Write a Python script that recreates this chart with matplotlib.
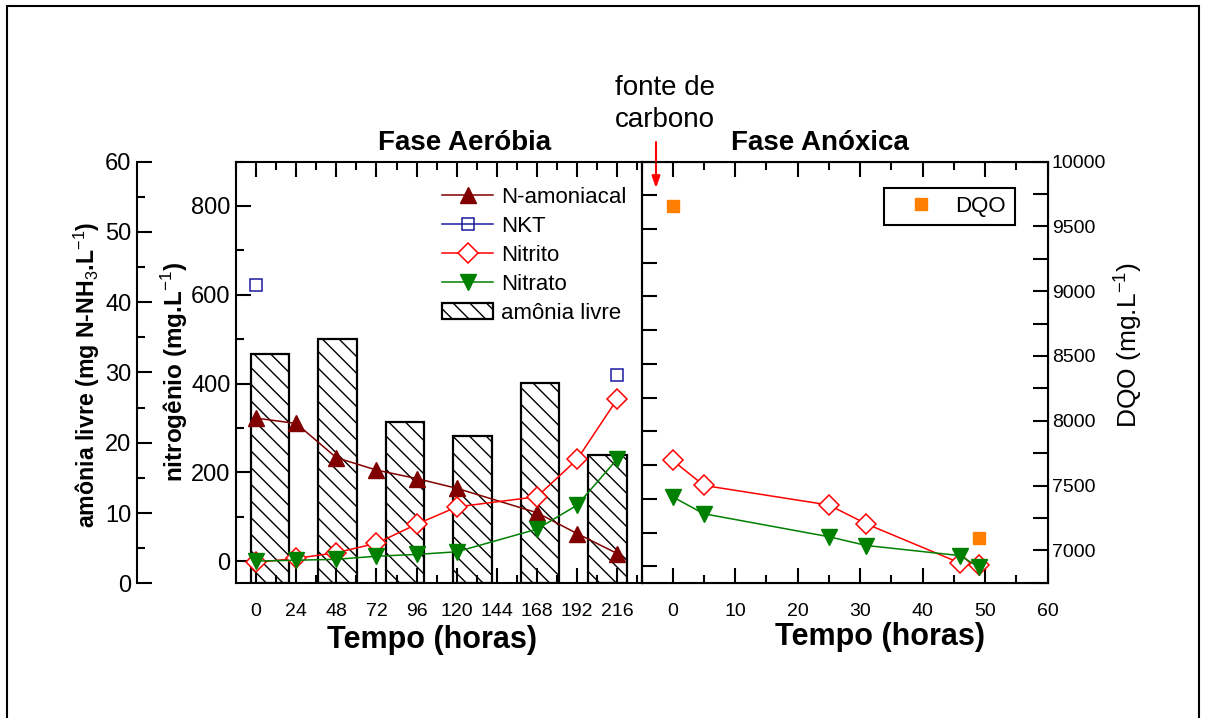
import numpy as np
import matplotlib
matplotlib.use('Agg')
import matplotlib.pyplot as plt
from matplotlib.patches import Rectangle
from matplotlib.ticker import MultipleLocator, NullFormatter

plt.rcParams['font.family'] = ['Liberation Sans', 'DejaVu Sans']
plt.rcParams['mathtext.fontset'] = 'custom'
plt.rcParams['mathtext.rm'] = 'Liberation Sans'
plt.rcParams['mathtext.bf'] = 'Liberation Sans:bold'
plt.rcParams['hatch.linewidth'] = 1.0
NARROW = ['Liberation Sans Narrow', 'Liberation Sans']

# Fase aerobia (horas)
t_aer = [0, 24, 48, 72, 96, 120, 168, 192, 216]
n_amoniacal = [322, 310, 233, 205, 186, 164, 109, 62, 17]
nkt = [622, np.nan, np.nan, np.nan, np.nan, np.nan, np.nan, np.nan, 420]
nitrito_aer = [-3, 6, 19, 40, 83, 122, 145, 229, 365]
nitrato_aer = [0, 2, 4, 11, 15, 21, 72, 126, 230]

# amonia livre (barras)
bar_pos = [1, 2, 3, 4, 5, 6]
amonia_livre = [32.6, 34.7, 23.0, 21.0, 28.5, 18.2]

# Fase anoxica (horas)
t_anox = [0, 5, 25, 31, 46, 49]
nitrito_anox = [157, 120, 91, 63, 5, 1.5]
nitrato_anox = [103, 78, 44, 31, 16, -1]
t_dqo = [0, 49]
dqo = [9660, 7100]

W, H = 1206, 718


def fx(x):
    return x / W


def fy(y):
    return 1 - y / H


fig = plt.figure(figsize=(W / 100, H / 100), dpi=100)

top, bot = 161.5, 583.3
rect_l = [fx(236), fy(bot), fx(641.5) - fx(236), (bot - top) / H]
rect_r = [fx(641.5), fy(bot), fx(1047.5) - fx(641.5), (bot - top) / H]

# --- barras de amonia livre (eixo externo a esquerda)
ax_bar = fig.add_axes(rect_l, label='bars')
ax_bar.bar(bar_pos, amonia_livre, width=0.57, facecolor='white',
           edgecolor='black', hatch='\\\\', linewidth=1.6,
           label='amônia livre')
ax_bar.set_xlim(0.5, 6.5)
ax_bar.set_ylim(0, 60)
ax_bar.set_xticks([])
for s in ['top', 'right', 'bottom']:
    ax_bar.spines[s].set_visible(False)
ax_bar.spines['left'].set_position(('outward', 71.3))
ax_bar.spines['left'].set_linewidth(1.5)
ax_bar.yaxis.set_major_locator(MultipleLocator(10))
ax_bar.yaxis.set_minor_locator(MultipleLocator(5))
ax_bar.tick_params(axis='y', which='both', direction='in', width=1.5,
                   labelsize=17, pad=4)
ax_bar.tick_params(axis='y', which='major', length=11)
ax_bar.tick_params(axis='y', which='minor', length=6)
ax_bar.patch.set_visible(False)

# --- nitrogenio, fase aerobia
ax = fig.add_axes(rect_l, label='aer')
ax.patch.set_visible(False)
ax.plot(t_aer, n_amoniacal, color='#800000', lw=1.1, marker='^', ms=12,
        label='N-amoniacal')
ax.plot(t_aer, nkt, color='#1a1aa0', lw=1.1, marker='s', ms=9,
        mfc='none', mew=1.1, label='NKT')
ax.plot(t_aer, nitrito_aer, color='red', lw=1.1, marker='D', ms=10,
        mfc='white', mew=1.1, label='Nitrito')
ax.plot(t_aer, nitrato_aer, color='#008000', lw=1.1, marker='v', ms=12,
        label='Nitrato')
ax.set_xlim(-12, 230.5)
ax.set_ylim(-50, 900)
ax.xaxis.set_major_locator(MultipleLocator(24))
ax.xaxis.set_minor_locator(MultipleLocator(12))
ax.yaxis.set_major_locator(MultipleLocator(200))
ax.yaxis.set_minor_locator(MultipleLocator(100))
ax.tick_params(axis='x', which='both', direction='in', top=True, bottom=True,
               width=1.5, labelsize=14, pad=14, labelfontfamily=NARROW)
ax.tick_params(axis='y', which='both', direction='in', left=True, right=False,
               width=1.5, labelsize=17, pad=4)
ax.tick_params(which='major', length=11)
ax.tick_params(which='minor', length=6)
for s in ax.spines.values():
    s.set_linewidth(1.5)

handles, labels = ax.get_legend_handles_labels()
bh, bl = ax_bar.get_legend_handles_labels()
ax.legend(handles + bh, labels + bl, loc='upper left',
          bbox_to_anchor=(0.508, 0.94), frameon=False, fontsize=16,
          handlelength=2.3, handletextpad=0.35, labelspacing=0.36,
          borderpad=0, borderaxespad=0)

# --- fase anoxica
ax2 = fig.add_axes(rect_r, label='anox')
ax2.plot(t_anox, nitrito_anox, color='red', lw=1.1, marker='D', ms=10,
         mfc='white', mew=1.1)
ax2.plot(t_anox, nitrato_anox, color='#008000', lw=1.1, marker='v', ms=12)
ax2.set_xlim(-5, 60)
ax2.set_ylim(-25, 600)
ax2.xaxis.set_major_locator(MultipleLocator(10))
ax2.xaxis.set_minor_locator(MultipleLocator(5))
ax2.yaxis.set_major_locator(MultipleLocator(50))
ax2.yaxis.set_major_formatter(NullFormatter())
ax2.tick_params(axis='x', which='both', direction='in', top=True, bottom=True,
                width=1.5, labelsize=14, pad=14, labelfontfamily=NARROW)
ax2.tick_params(axis='y', direction='in', left=True, right=False, width=1.5)
ax2.tick_params(which='major', length=11)
ax2.tick_params(which='minor', length=6)
for s in ax2.spines.values():
    s.set_linewidth(1.5)

ax3 = ax2.twinx()
ax3.plot(t_dqo, dqo, ls='none', marker='s', ms=8, color='#ff8000',
         label='DQO')
ax3.set_ylim(6747, 10000)
ax3.yaxis.set_major_locator(MultipleLocator(500))
ax3.yaxis.set_minor_locator(MultipleLocator(250))
ax3.tick_params(axis='y', which='both', direction='in', length=11, width=1.5,
                labelsize=14, pad=3)
ax3.legend(loc='upper left', bbox_to_anchor=(0.597, 0.926, 0.323, 0.01),
           mode='expand', fontsize=16, numpoints=1, handlelength=2.6,
           handletextpad=0.25, borderpad=0.35, borderaxespad=0,
           fancybox=False, edgecolor='black', framealpha=1)
ax3.get_legend().get_frame().set_linewidth(1.5)

# --- textos
fig.text(fx(465), fy(143), 'Fase Aeróbia', ha='center', va='center',
         fontsize=20, fontweight='bold')
fig.text(fx(820), fy(143), 'Fase Anóxica', ha='center', va='center',
         fontsize=20, fontweight='bold')
fig.text(fx(432), fy(640), 'Tempo (horas)', ha='center', va='center',
         fontsize=22, fontweight='bold', family=NARROW)
fig.text(fx(880), fy(637), 'Tempo (horas)', ha='center', va='center',
         fontsize=22, fontweight='bold', family=NARROW)
fig.text(fx(87), fy(375), r'amônia livre (mg N-NH$_3$.L$^{-1}$)',
         rotation=90, ha='center', va='center', fontsize=16.7,
         fontweight='bold')
fig.text(fx(175), fy(372), r'nitrogênio (mg.L$^{-1}$)', rotation=90,
         ha='center', va='center', fontsize=17.5, fontweight='bold')
fig.text(fx(1128), fy(345), r'DQO (mg.L$^{-1}$)', rotation=90,
         ha='center', va='center', fontsize=19)
fig.text(fx(665), fy(104), 'fonte de\ncarbono', ha='center', va='center',
         fontsize=20, family=NARROW, linespacing=1.3)

ax2.annotate('', xy=(fx(656), fy(188)), xycoords='figure fraction',
             xytext=(fx(656), fy(142)), textcoords='figure fraction',
             arrowprops=dict(arrowstyle='-|>,head_length=0.7,head_width=0.25',
                             color='red', lw=1.5, shrinkA=0, shrinkB=0),
             annotation_clip=False)

fig.add_artist(Rectangle((fx(7), -0.05), fx(1199) - fx(7), fy(6) + 0.05,
                         fill=False, lw=1.5, ec='black',
                         transform=fig.transFigure))

fig.savefig('out.png', dpi=100)
